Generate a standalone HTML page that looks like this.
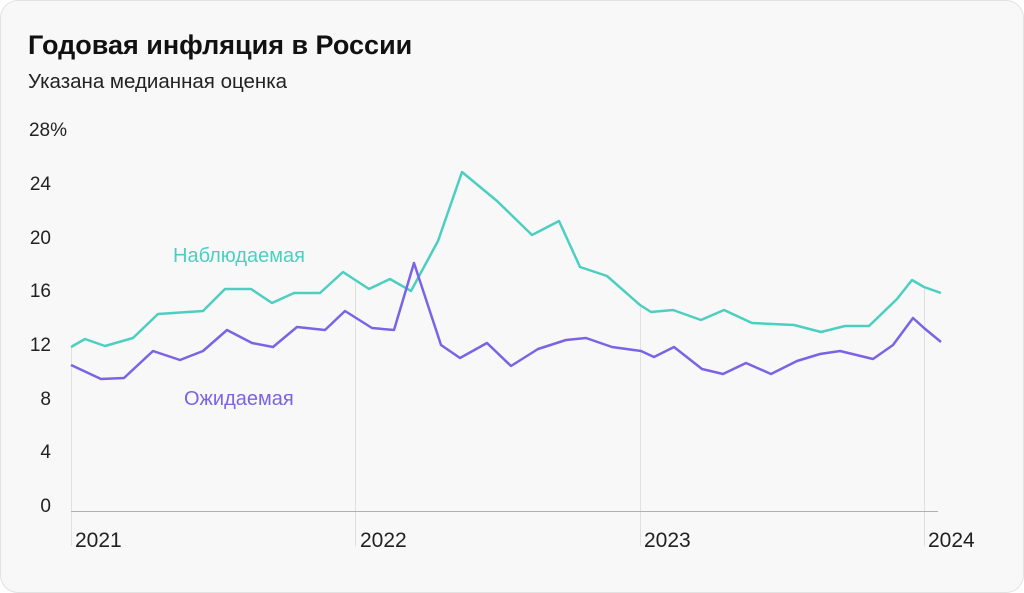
<!DOCTYPE html>
<html><head><meta charset="utf-8"><style>
html,body{margin:0;padding:0;background:#fff;}
body{width:1024px;height:593px;overflow:hidden;font-family:"Liberation Sans",sans-serif;}
.card{position:absolute;left:0;top:0;width:1022px;height:591px;border:1px solid #e2e2e2;border-radius:18px;background:#f8f8f8;}
</style></head><body>
<div class="card"></div>
<svg width="1024" height="593" style="position:absolute;left:0;top:0" font-family="Liberation Sans, sans-serif">
<text x="28" y="54" font-size="27" font-weight="bold" fill="#111">Годовая инфляция в России</text>
<text x="28" y="88" font-size="20.5" fill="#222">Указана медианная оценка</text>
<g font-size="19" fill="#222" text-anchor="end">
<text x="67" y="136">28%</text><text x="51" y="190">24</text><text x="51" y="244">20</text><text x="51" y="297">16</text><text x="51" y="351">12</text><text x="51" y="405">8</text><text x="51" y="458">4</text><text x="51" y="512">0</text>
</g>
<g stroke="#e0e0e0" stroke-width="1">
<line x1="71.5" y1="346" x2="71.5" y2="546"/><line x1="355.5" y1="282" x2="355.5" y2="546"/><line x1="640.5" y1="305" x2="640.5" y2="546"/><line x1="924.5" y1="287" x2="924.5" y2="546"/>
</g>
<line x1="71" y1="511.5" x2="938" y2="511.5" stroke="#b0b0b0" stroke-width="1"/>
<g font-size="21" fill="#222">
<text x="75" y="547">2021</text><text x="360" y="547">2022</text><text x="644" y="547">2023</text><text x="928" y="547">2024</text>
</g>
<polyline fill="none" stroke="#4ccfc0" stroke-width="2.5" stroke-linejoin="round" points="71,347 85,339 105,346 133,338 158,314 203,311 225,289 251,289 272,303 294,293 320,293 343,272 369,289 390,279 411,291 438,241 462,172 497,201 532,235 559,221 580,267 607,276 640,305 651,312 673,310 701,320 724,310 752,323 794,325 821,332 845,326 869,326 897,299 912,280 924,287 941,293"/>
<polyline fill="none" stroke="#7b63e6" stroke-width="2.5" stroke-linejoin="round" points="71,365 101,379 124,378 153,351 180,360 203,351 227,330 252,343 273,347 297,327 325,330 345,311 372,328 394,330 414,263 441,345 460,358 487,343 511,366 538,349 566,340 586,338 612,347 641,351 654,357 674,347 702,369 723,374 746,363 771,374 797,361 820,354 840,351 873,359 893,345 913,318 924,328 941,342"/>
<text x="173" y="262" font-size="20" fill="#4ccfc0">Наблюдаемая</text>
<text x="184" y="405" font-size="20" fill="#7b63e6">Ожидаемая</text>
</svg>
</body></html>
